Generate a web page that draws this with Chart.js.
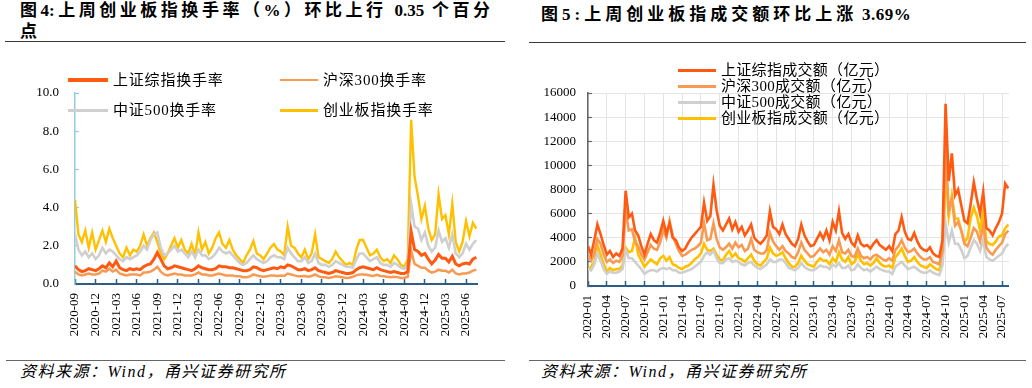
<!DOCTYPE html>
<html>
<head>
<meta charset="utf-8">
<script src="https://cdn.jsdelivr.net/npm/chart.js@4.4.1/dist/chart.umd.min.js"></script>
<style>
  body { margin: 0; width: 1032px; height: 388px; background: #fff; position: relative; overflow: hidden;
         font-family: "Liberation Serif", "Noto Sans CJK SC", serif; color: #000; }
  .abs { position: absolute; white-space: nowrap; }
  .title { font-weight: bold; font-size: 17px; line-height: 20px; }
  .rule { position: absolute; height: 0; }
  .src { font-style: italic; font-size: 16px; line-height: 18px; letter-spacing: 1.5px; }
  .leg { position: absolute; font-size: 15px; line-height: 16px; white-space: nowrap; }
  .leg .sw { position: absolute; left: 0; }
  canvas { position: absolute; }
</style>
</head>
<body>

<div class="abs title" style="left:20px;top:1px;width:470px;text-align:justify;text-align-last:justify;">图4:上周创业板指换手率（%）环比上行 0.35 个百分</div>
<div class="abs title" style="left:20px;top:22px;">点</div>
<div class="rule" style="left:5px;top:41px;width:500px;border-top:1.5px solid #3a3a3a;"></div>

<div class="abs title" style="left:541px;top:5px;letter-spacing:4px;">图5:上周创业板指成交额环比上涨<span style="letter-spacing:0.5px;"> 3.69%</span></div>
<div class="rule" style="left:529px;top:42px;width:497px;border-top:1.5px solid #3a3a3a;"></div>

<canvas id="leftChart" width="516" height="305" style="left:0;top:45px;"></canvas>
<canvas id="rightChart" width="516" height="305" style="left:516px;top:45px;"></canvas>

<div class="rule" style="left:6px;top:360px;width:499px;border-top:1px solid #666;"></div>
<div class="rule" style="left:529px;top:360px;width:497px;border-top:1px solid #666;"></div>
<div class="abs src" style="left:20px;top:363px;">资料来源：Wind，甬兴证券研究所</div>
<div class="abs src" style="left:541px;top:363px;">资料来源：Wind，甬兴证券研究所</div>

<script>
// 图4：换手率（%），半月一个点，从 2020-09 开始
const leftStart = "2020-09";
const leftTicks = ["2020-09", "2020-12", "2021-03", "2021-06", "2021-09", "2021-12", "2022-03", "2022-06",
  "2022-09", "2022-12", "2023-03", "2023-06", "2023-09", "2023-12", "2024-03", "2024-06", "2024-09",
  "2024-12", "2025-03", "2025-06"];
const leftNames = ["上证综指换手率", "沪深300换手率", "中证500换手率", "创业板指换手率"];

const shTurnover = [
  0.95, 0.75, 0.65, 0.7, 0.8, 0.75, 0.7, 0.8, 0.95, 0.85, 1.1, 0.9, 1.2, 0.85, 0.75, 0.7, 0.8, 0.75, 0.8, 0.75,
  0.9, 1.0, 1.05, 1.3, 1.65, 1.3, 0.95, 0.8, 0.85, 0.95, 0.9, 0.85, 0.8, 0.75, 0.7, 0.8, 0.95, 0.85, 0.8, 0.75,
  0.75, 0.8, 0.95, 0.9, 0.9, 0.85, 0.85, 0.8, 0.75, 0.7, 0.7, 0.75, 0.9, 0.85, 0.75, 0.7, 0.75, 0.8, 0.85, 0.8,
  0.9, 0.85, 1.0, 0.95, 0.85, 0.75, 0.75, 0.8, 0.7, 0.75, 0.85, 0.7, 0.65, 0.6, 0.55, 0.6, 0.7, 0.65, 0.6, 0.55,
  0.55, 0.6, 0.75, 0.85, 0.9, 0.85, 0.8, 0.75, 0.85, 0.75, 0.7, 0.65, 0.6, 0.65, 0.6, 0.55, 0.55, 0.65,
  2.75, 1.8, 1.7, 1.5, 1.6, 1.3, 1.05, 1.25, 1.55, 1.35, 1.35, 1.15, 1.45, 1.05, 0.95, 1.05, 1.1, 1.05, 1.3, 1.4
];
const hs300Turnover = [
  0.65, 0.5, 0.45, 0.5, 0.55, 0.5, 0.5, 0.55, 0.7, 0.65, 0.8, 0.65, 0.75, 0.55, 0.5, 0.45, 0.5, 0.5, 0.5, 0.45,
  0.6, 0.6, 0.65, 0.75, 0.9, 0.65, 0.5, 0.45, 0.5, 0.55, 0.5, 0.5, 0.45, 0.45, 0.45, 0.5, 0.6, 0.5, 0.5, 0.45,
  0.45, 0.5, 0.55, 0.5, 0.45, 0.45, 0.45, 0.4, 0.4, 0.35, 0.35, 0.4, 0.5, 0.45, 0.4, 0.38, 0.4, 0.45, 0.45, 0.42,
  0.45, 0.42, 0.55, 0.5, 0.45, 0.4, 0.4, 0.42, 0.38, 0.42, 0.5, 0.4, 0.35, 0.35, 0.32, 0.35, 0.4, 0.38, 0.35, 0.32,
  0.33, 0.38, 0.45, 0.5, 0.5, 0.48, 0.45, 0.42, 0.48, 0.42, 0.4, 0.38, 0.35, 0.38, 0.36, 0.32, 0.32, 0.38,
  1.75, 1.05, 0.95, 0.85, 0.85, 0.7, 0.6, 0.65, 0.75, 0.7, 0.7, 0.6, 0.75, 0.55, 0.5, 0.55, 0.55, 0.6, 0.7, 0.75
];
const zz500Turnover = [
  2.6, 1.8, 1.5, 1.7, 1.4, 1.6, 1.3, 1.5, 1.9, 1.6, 1.8, 1.7, 1.5, 1.3, 1.2, 1.4, 1.3, 1.4, 1.5, 1.7,
  2.0, 1.8, 2.3, 2.6, 2.7, 1.9, 1.5, 1.6, 1.8, 2.0, 1.7, 1.8, 1.6, 1.4, 1.7, 1.4, 1.8, 1.5, 1.5, 1.3,
  1.4, 1.6, 1.9, 1.7, 1.6, 1.7, 1.5, 1.3, 1.1, 1.0, 1.1, 1.3, 1.5, 1.3, 1.2, 1.1, 1.2, 1.4, 1.5, 1.4,
  1.4, 1.3, 1.9, 1.6, 1.4, 1.2, 1.2, 1.4, 1.1, 1.2, 1.6, 1.1, 1.0, 1.0, 0.9, 1.0, 1.2, 1.1, 1.0, 0.9,
  0.9, 0.85, 1.3, 1.6, 1.6, 1.4, 1.2, 1.3, 1.4, 1.1, 1.0, 1.0, 0.9, 1.1, 1.0, 0.85, 0.8, 1.0,
  4.2, 3.0, 2.9, 2.3, 2.7, 2.0, 1.7, 1.9, 2.8, 2.2, 2.4, 1.9, 2.6, 1.6, 1.4, 1.6, 2.1, 1.8, 2.1, 2.3
];
const cybTurnover = [
  4.4, 2.6, 2.2, 2.8, 1.9, 2.7, 1.8, 2.3, 2.8, 2.2, 2.9, 2.4, 2.0, 1.6, 1.4, 1.9, 1.5, 1.8, 1.7, 2.0,
  2.6, 2.0, 2.4, 2.7, 2.2, 1.6, 1.3, 1.6, 2.0, 2.4, 1.9, 2.3, 1.8, 1.6, 2.1, 1.5, 2.7, 1.8, 2.2, 1.6,
  1.9, 2.4, 2.7, 2.1, 1.9, 2.3, 1.8, 1.5, 1.3, 1.1, 1.5, 1.8, 2.25, 1.6, 1.5, 1.3, 1.6, 1.9, 2.1, 1.8,
  1.7, 1.5, 3.0, 2.0, 1.9, 1.6, 1.4, 1.8, 1.3, 1.6, 2.6, 1.4, 1.3, 1.2, 1.1, 1.3, 1.7, 1.4, 1.2, 1.0,
  1.1, 1.0, 1.8, 2.3, 2.3, 1.9, 1.5, 1.6, 1.8, 1.4, 1.2, 1.3, 1.1, 1.5, 1.3, 1.0, 0.9, 1.3,
  8.6, 5.6, 4.6, 3.4, 4.1, 2.9, 2.3, 2.6, 4.7, 3.4, 3.6, 2.6, 4.2, 2.2, 1.7, 2.2, 3.3, 2.5, 3.2, 2.9
];

// 图5：成交额（亿元），半月一个点，从 2020-01 开始
const rightStart = "2020-01";
const rightTicks = ["2020-01", "2020-04", "2020-07", "2020-10", "2021-01", "2021-04", "2021-07", "2021-10",
  "2022-01", "2022-04", "2022-07", "2022-10", "2023-01", "2023-04", "2023-07", "2023-10", "2024-01",
  "2024-04", "2024-07", "2024-10", "2025-01", "2025-04", "2025-07"];
const rightNames = ["上证综指成交额（亿元）", "沪深300成交额（亿元）", "中证500成交额（亿元）", "创业板指成交额（亿元）"];

const shAmount = [
  3300, 2600, 3800, 5100, 4300, 3400, 2600, 2900, 2400, 2700, 2500, 3100, 7900, 5700, 6000, 4600, 4200, 3300, 2600, 3500,
  4300, 3800, 3600, 4400, 5400, 4300, 5200, 4000, 3800, 3200, 2900, 3100, 3600, 4000, 4300, 4600, 4900, 6900, 5400, 5800,
  8400, 6300, 5000, 4600, 5100, 5600, 4700, 5300, 4500, 4900, 4200, 4600, 5100, 4000, 3700, 3500, 3800, 4200, 6200, 4900,
  4700, 4300, 5100, 4300, 3900, 3500, 3300, 3900, 5100, 4200, 3700, 3300, 3400, 3900, 4400, 3900, 4600, 3800, 5300, 4600,
  6200, 4400, 3900, 4300, 3600, 3300, 4200, 3500, 3300, 3400, 3100, 3500, 3800, 3400, 3200, 3000, 3300, 2900, 4300, 4600,
  5700, 4500, 3900, 3800, 4400, 3700, 3200, 3000, 2900, 3200, 2700, 2500, 2400, 3800, 15100, 8700, 11000, 7500, 8000, 6700,
  5400, 5200, 6800, 8600, 7200, 6000, 7800, 4800, 4600, 4200, 4800, 5300, 6000, 8500, 8100
];
const hs300Amount = [
  2600, 2100, 2700, 3900, 3500, 2600, 2000, 2200, 1900, 2100, 2000, 2500, 6300, 4600, 4700, 3700, 3300, 2600, 2200, 2800,
  3400, 3100, 3000, 3600, 4700, 4000, 5400, 4200, 3500, 2900, 2500, 2600, 2800, 3000, 3100, 3300, 3600, 5200, 3800, 3900,
  5200, 3900, 3200, 3000, 3200, 3500, 3100, 3600, 3200, 3400, 2900, 3100, 3900, 3000, 2800, 2700, 2700, 3000, 4400, 3700,
  3300, 3000, 3300, 2900, 2700, 2400, 2300, 2800, 3600, 3000, 2700, 2400, 2500, 2800, 3100, 2800, 3000, 2600, 3300, 2900,
  3800, 2800, 2700, 3000, 2500, 2400, 3100, 2500, 2300, 2400, 2200, 2500, 2600, 2400, 2200, 2100, 2300, 2100, 3000, 3300,
  3800, 3200, 2800, 2900, 3100, 2700, 2400, 2200, 2200, 2400, 2000, 1900, 1800, 2900, 11400, 6300, 7200, 5000, 5300, 4600,
  3500, 3300, 4000, 4800, 4500, 3700, 5000, 3200, 2800, 2600, 3000, 3300, 3600, 4300, 4600
];
const zz500Amount = [
  1400, 1300, 1800, 2700, 2100, 1400, 1000, 1200, 1100, 1100, 1200, 1400, 3000, 2300, 2300, 2000, 1700, 1400, 1000, 1200,
  1300, 1300, 1200, 1400, 1500, 1400, 1500, 1300, 1300, 1100, 1100, 1200, 1300, 1400, 1600, 1800, 2000, 2500, 2800, 2600,
  2900, 2300, 1900, 1900, 2200, 2300, 2000, 2100, 2000, 1800, 1700, 1900, 2000, 1700, 1500, 1400, 1600, 1800, 2200, 2000,
  2000, 2200, 2200, 1900, 1500, 1400, 1300, 1500, 1900, 1600, 1400, 1300, 1300, 1500, 1700, 1600, 1600, 1400, 1800, 1600,
  1900, 1500, 1500, 1700, 1300, 1400, 1800, 1500, 1300, 1400, 1200, 1400, 1600, 1400, 1300, 1200, 1200, 1000, 1600, 1800,
  2000, 1700, 1400, 1500, 1600, 1400, 1200, 1100, 1100, 1300, 1100, 1000, 900, 1700, 5200, 3600, 4600, 3500, 3500, 3000,
  2300, 2500, 3200, 3800, 3500, 2900, 3800, 2400, 2200, 2100, 2300, 2500, 2700, 3200, 3500
];
const cybAmount = [
  1300, 1600, 2000, 3400, 2600, 1800, 1200, 1500, 1300, 1400, 1400, 1700, 3200, 2800, 2900, 4000, 2600, 2100, 1600, 1900,
  2200, 2000, 1800, 2300, 2500, 2100, 2400, 1800, 1700, 1500, 1400, 1600, 1700, 1900, 2200, 2400, 2700, 3500, 3000, 2900,
  3100, 2600, 2200, 2100, 2600, 2900, 2400, 2700, 2300, 2200, 2000, 2300, 2600, 2100, 1800, 1700, 2000, 2300, 3200, 2700,
  2500, 2600, 2800, 2300, 1900, 1600, 1600, 1900, 2500, 2100, 1800, 1700, 1600, 2000, 2300, 2100, 2100, 1800, 2300, 2000,
  2800, 2200, 2000, 2400, 1800, 2000, 2600, 2100, 1800, 1900, 1700, 1900, 2300, 1900, 1700, 1600, 1700, 1500, 2400, 2700,
  3100, 2500, 2000, 2100, 2400, 2000, 1700, 1600, 1500, 1800, 1600, 1400, 1300, 2400, 9600, 5800, 7500, 5600, 5600, 4600,
  3600, 4000, 5600, 6500, 5800, 4600, 6200, 3700, 3500, 3400, 3700, 4100, 4200, 4800, 5100
];

const seriesColors = ["#FF5A12", "#F99A52", "#CFCFCF", "#FFC000"];
const axisBlue = "#2B5D86";
const tickFont = { family: "Liberation Serif", size: 13 };

function monthsFrom(start, label) {
  const [y0, m0] = start.split("-").map(Number);
  const [y, m] = label.split("-").map(Number);
  return (y - y0) * 12 + (m - m0);
}

// 半月一个点 -> x 为月份偏移
function toPoints(values) {
  return values.map((v, i) => ({ x: i * 0.5, y: v }));
}

function addLegend(items) {
  items.forEach(it => {
    const d = document.createElement("div");
    d.className = "leg";
    d.style.left = it.x + "px";
    d.style.top = (it.y - 8) + "px";
    d.style.letterSpacing = it.spacing + "px";
    d.innerHTML = '<span class="sw" style="top:' + (8 - it.h / 2) + 'px;width:' + it.w + 'px;height:' + it.h +
      'px;background:' + it.color + '"></span><span style="margin-left:' + (it.w + 5) + 'px">' + it.label + '</span>';
    document.body.appendChild(d);
  });
}

function makeChart(id, cfg) {
  const datasets = cfg.series.map((s, i) => ({
    label: cfg.names[i],
    data: toPoints(s),
    borderColor: seriesColors[i],
    borderWidth: cfg.widths[i],
    pointRadius: 0,
    tension: 0,
    fill: false
  }));
  return new Chart(document.getElementById(id), {
    type: "line",
    data: { datasets },
    options: {
      responsive: false,
      animation: false,
      devicePixelRatio: 1,
      layout: { padding: { top: 48, right: cfg.padRight, left: 0, bottom: 0 } },
      plugins: { legend: { display: false }, tooltip: { enabled: false } },
      scales: {
        x: {
          type: "linear",
          min: 0,
          max: cfg.xMax,
          afterBuildTicks: s => { s.ticks = cfg.ticks.map(t => ({ value: monthsFrom(cfg.start, t) })); },
          afterFit: s => { s.height = cfg.xHeight; },
          ticks: {
            callback: (v, i) => cfg.ticks[i],
            autoSkip: false, minRotation: 90, maxRotation: 90,
            padding: 14, color: "#000", font: tickFont
          },
          grid: cfg.xGrid,
          border: { color: axisBlue, width: 2 }
        },
        y: {
          min: 0,
          max: cfg.yMax,
          afterFit: s => { s.width = cfg.yWidth; },
          ticks: { stepSize: cfg.yStep, callback: cfg.yFormat, padding: cfg.yPad, color: "#000", font: tickFont },
          grid: cfg.yGrid,
          border: { color: cfg.yAxisColor, width: 1.5 }
        }
      }
    }
  });
}

makeChart("leftChart", {
  start: leftStart, ticks: leftTicks, names: leftNames,
  series: [shTurnover, hs300Turnover, zz500Turnover, cybTurnover],
  widths: [3, 2.5, 2.6, 2.4],
  xMax: 58.6, padRight: 39, xHeight: 66, yWidth: 75,
  yMax: 10, yStep: 2, yFormat: v => v.toFixed(1), yPad: 20, yAxisColor: "#92CDDC",
  xGrid: { drawOnChartArea: false, tickLength: -5, tickColor: axisBlue, tickWidth: 1.5 },
  yGrid: { drawOnChartArea: false, tickLength: -4, tickColor: "#92CDDC", tickWidth: 1.2 }
});

makeChart("rightChart", {
  start: rightStart, ticks: rightTicks, names: rightNames,
  series: [shAmount, hs300Amount, zz500Amount, cybAmount],
  widths: [2.6, 2.6, 2.6, 2.6],
  xMax: 67.1, padRight: 22, xHeight: 64, yWidth: 72,
  yMax: 16000, yStep: 2000, yFormat: v => String(v), yPad: 16, yAxisColor: "#666",
  xGrid: { drawOnChartArea: true, color: "#E4E4E4", borderDash: [1, 6], lineWidth: 1,
           tickLength: -5, tickColor: axisBlue, tickWidth: 1.5, tickBorderDash: [] },
  yGrid: { drawOnChartArea: true, color: "#E4E4E4", borderDash: [1, 6], lineWidth: 1,
           tickLength: -4, tickColor: "#666", tickWidth: 1.2, tickBorderDash: [] }
});

addLegend([
  { x: 68, y: 80, w: 40, h: 4, color: seriesColors[0], label: leftNames[0], spacing: 0.8 },
  { x: 280, y: 80, w: 38, h: 2.5, color: seriesColors[1], label: leftNames[1], spacing: 0.8 },
  { x: 68, y: 110, w: 40, h: 3, color: seriesColors[2], label: leftNames[2], spacing: 0.8 },
  { x: 280, y: 110, w: 38, h: 3, color: seriesColors[3], label: leftNames[3], spacing: 0.8 }
]);
addLegend([
  { x: 678, y: 70, w: 38, h: 3, color: seriesColors[0], label: rightNames[0], spacing: 0.3 },
  { x: 678, y: 86, w: 38, h: 3, color: seriesColors[1], label: rightNames[1], spacing: 0.3 },
  { x: 678, y: 102, w: 38, h: 3, color: seriesColors[2], label: rightNames[2], spacing: 0.3 },
  { x: 678, y: 118, w: 38, h: 3, color: seriesColors[3], label: rightNames[3], spacing: 0.3 }
]);
</script>
</body>
</html>
